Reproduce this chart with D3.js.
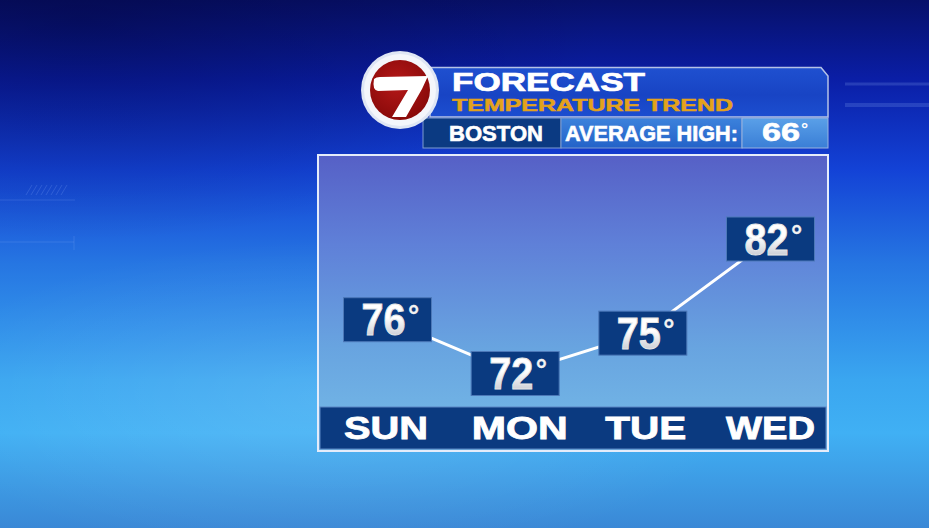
<!DOCTYPE html>
<html><head><meta charset="utf-8">
<script src="https://cdn.jsdelivr.net/npm/d3@7"></script>
<style>html,body{margin:0;padding:0;overflow:hidden;background:#0a1a80}</style>
</head><body>
<script>
// ---- data ----
const days = ["SUN", "MON", "TUE", "WED"];
const highs = [76, 72, 75, 82];
const city = "BOSTON";
const avgLabel = "AVERAGE HIGH:";
const avgHigh = 66;
const titleText = "FORECAST";
const subtitleText = "TEMPERATURE TREND";

const W = 929, H = 528;
const svg = d3.select("body").append("svg").attr("width", W).attr("height", H);
const defs = svg.append("defs");
const F = "'Liberation Sans', Arial, sans-serif";

function lin(id, stops, x2 = 0, y2 = 1) {
  const g = defs.append("linearGradient").attr("id", id)
    .attr("x1", 0).attr("y1", 0).attr("x2", x2).attr("y2", y2);
  stops.forEach(s => g.append("stop").attr("offset", s[0]).attr("stop-color", s[1]));
  return g;
}
function rad(id, stops, cx = 0.5, cy = 0.5, r = 0.5) {
  const g = defs.append("radialGradient").attr("id", id).attr("cx", cx).attr("cy", cy).attr("r", r);
  stops.forEach(s => g.append("stop").attr("offset", s[0]).attr("stop-color", s[1]).attr("stop-opacity", s[2] ?? 1));
  return g;
}
lin("bg", [[0, "#07106a"], [0.15, "#0a1ea6"], [0.32, "#1342d6"], [0.5, "#2676e2"], [0.72, "#3aa6f0"], [0.82, "#40b0f4"], [1, "#3a88d6"]]);
lin("panel", [[0, "#5660c6"], [0.3, "#5f80d8"], [0.65, "#68a4e0"], [1, "#76bce8"]]);
lin("head", [[0, "#1f50d0"], [0.55, "#1844c4"], [1, "#1c4ed0"]]);
lin("avg", [[0, "#3c82dc"], [1, "#2362c8"]]);
lin("avgv", [[0, "#5aa0e8"], [1, "#3a7ed6"]]);
lin("txt", [[0, "#ffffff"], [0.45, "#ffffff"], [1, "#b4b8c2"]]);
rad("red", [[0, "#b51818"], [1, "#8a0a0a"]], 0.45, 0.4, 0.6);
rad("glow", [[0, "#ffffff", 0.12], [1, "#ffffff", 0]]);
rad("dark", [[0, "#000028", 0.35], [1, "#000028", 0]]);

// background
svg.append("rect").attr("width", W).attr("height", H).attr("fill", "url(#bg)");
svg.append("ellipse").attr("cx", 80).attr("cy", 20).attr("rx", 520).attr("ry", 220).attr("fill", "url(#dark)");
svg.append("ellipse").attr("cx", 330).attr("cy", 400).attr("rx", 420).attr("ry", 160).attr("fill", "url(#glow)");
// faint decorations
const deco = svg.append("g").attr("stroke", "#9ec4ff").attr("stroke-opacity", 0.18).attr("fill", "none");
deco.append("line").attr("x1", 0).attr("y1", 242).attr("x2", 74).attr("y2", 242);
deco.append("line").attr("x1", 74).attr("y1", 236).attr("x2", 74).attr("y2", 250);
deco.append("line").attr("x1", 0).attr("y1", 200).attr("x2", 75).attr("y2", 200);
deco.append("line").attr("x1", 845).attr("y1", 84).attr("x2", 929).attr("y2", 84).attr("stroke-width", 3);
deco.append("line").attr("x1", 845).attr("y1", 105).attr("x2", 929).attr("y2", 105).attr("stroke-width", 4);
for (let i = 0; i < 8; i++) deco.append("line").attr("x1", 26 + i * 5).attr("y1", 195).attr("x2", 32 + i * 5).attr("y2", 185);

// ---- chart panel ----
const x = d3.scalePoint().domain(days).range([387.5, 770.5]);
const y = d3.scaleLinear().domain([72, 82]).range([373.5, 239]);

svg.append("rect").attr("x", 318).attr("y", 155).attr("width", 510).attr("height", 296)
  .attr("fill", "url(#panel)").attr("stroke", "#e4ecfa").attr("stroke-width", 2);

// day bar
svg.append("rect").attr("x", 320).attr("y", 407).attr("width", 506).attr("height", 42)
  .attr("fill", "#0b3a80").attr("stroke", "#5a86c4").attr("stroke-width", 1);
const dayW = {SUN: 84, MON: 96, TUE: 81, WED: 89};
const dayOff = {SUN: -1.5, MON: 4.5, TUE: 3, WED: 0};
svg.append("g").selectAll("text").data(days).join("text")
  .attr("x", d => x(d) + dayOff[d]).attr("y", 439)
  .attr("text-anchor", "middle").attr("font-family", F).attr("font-weight", "bold")
  .attr("font-size", 31).attr("fill", "#ffffff").attr("stroke", "#ffffff").attr("stroke-width", 0.8)
  .attr("textLength", d => dayW[d]).attr("lengthAdjust", "spacingAndGlyphs")
  .text(d => d);

// trend line
const pts = days.map((d, i) => [x(d), y(highs[i])]);
svg.append("path").attr("d", d3.line()(pts)).attr("fill", "none")
  .attr("stroke", "#ffffff").attr("stroke-width", 3);

// value boxes
const bw = 88, bh = 44;
const boxes = svg.append("g").selectAll("g").data(days).join("g")
  .attr("transform", (d, i) => `translate(${x(d)},${y(highs[i])})`);
boxes.append("rect").attr("x", -bw / 2).attr("y", -bh / 2).attr("width", bw).attr("height", bh)
  .attr("fill", "#0a3a80").attr("stroke", "#4c78b8").attr("stroke-width", 1);
boxes.append("text").attr("transform", "translate(-26,15.5) scale(0.9,1)")
  .attr("font-family", F).attr("font-weight", "bold").attr("font-size", 44)
  .attr("fill", "url(#txt)").attr("stroke", "#e6e6e6").attr("stroke-width", 0.9)
  .text((d, i) => highs[i]);
boxes.append("text").attr("x", 20.5).attr("y", 5.5)
  .attr("font-family", F).attr("font-weight", "bold").attr("font-size", 28)
  .attr("fill", "#f2f2f2").attr("stroke", "#f2f2f2").attr("stroke-width", 0.3)
  .text("°");

// ---- header ----
svg.append("path").attr("d", "M430,67.5 L821,67.5 L828,76 L828,117 L430,117 Z")
  .attr("fill", "url(#head)").attr("stroke", "#b4c2e6").attr("stroke-width", 1.5);
svg.append("text").attr("x", 452).attr("y", 90.5).attr("font-family", F).attr("font-weight", "bold")
  .attr("font-size", 26).attr("fill", "#ffffff").attr("stroke", "#ffffff").attr("stroke-width", 0.7)
  .attr("textLength", 193).attr("lengthAdjust", "spacingAndGlyphs").text(titleText);
svg.append("text").attr("x", 452).attr("y", 111).attr("font-family", F).attr("font-weight", "bold")
  .attr("font-size", 16).attr("fill", "#e4a21c").attr("stroke", "#e4a21c").attr("stroke-width", 0.5)
  .attr("textLength", 281).attr("lengthAdjust", "spacingAndGlyphs").text(subtitleText);

// second row
svg.append("rect").attr("x", 423).attr("y", 118).attr("width", 138).attr("height", 30)
  .attr("fill", "#0b3a82").attr("stroke", "#7f9cd0").attr("stroke-width", 1);
svg.append("rect").attr("x", 561).attr("y", 118).attr("width", 181).attr("height", 30)
  .attr("fill", "url(#avg)").attr("stroke", "#7f9cd0").attr("stroke-width", 1);
svg.append("rect").attr("x", 742).attr("y", 118).attr("width", 86).attr("height", 30)
  .attr("fill", "url(#avgv)").attr("stroke", "#9ab4e0").attr("stroke-width", 1);
svg.append("text").attr("x", 449).attr("y", 141).attr("font-family", F).attr("font-weight", "bold")
  .attr("font-size", 22).attr("fill", "#fff").attr("stroke", "#fff").attr("stroke-width", 0.6)
  .attr("textLength", 94).attr("lengthAdjust", "spacingAndGlyphs").text(city);
svg.append("text").attr("x", 565).attr("y", 141).attr("font-family", F).attr("font-weight", "bold")
  .attr("font-size", 22).attr("fill", "#fff").attr("stroke", "#fff").attr("stroke-width", 0.6)
  .attr("textLength", 173).attr("lengthAdjust", "spacingAndGlyphs").text(avgLabel);
svg.append("text").attr("x", 762).attr("y", 141).attr("font-family", F).attr("font-weight", "bold")
  .attr("font-size", 25).attr("fill", "#fff").attr("stroke", "#fff").attr("stroke-width", 0.6)
  .attr("textLength", 38).attr("lengthAdjust", "spacingAndGlyphs").text(avgHigh);
svg.append("text").attr("x", 801).attr("y", 135).attr("font-family", F).attr("font-weight", "bold")
  .attr("font-size", 18).attr("fill", "#fff").text("°");

// logo
const logo = svg.append("g");
logo.append("circle").attr("cx", 400).attr("cy", 90).attr("r", 39).attr("fill", "#dfe6f4");
logo.append("circle").attr("cx", 400).attr("cy", 90).attr("r", 36).attr("fill", "#f4f6fb");
logo.append("circle").attr("cx", 400).attr("cy", 90).attr("r", 30).attr("fill", "url(#red)");
logo.append("path").attr("d", "M374,79 Q376,77 380,77 L428,76 L422,89 L406,117 L392,117 L408,90 L378,91 Q372,90 374,79 Z")
  .attr("fill", "#ffffff");
</script>
</body></html>
